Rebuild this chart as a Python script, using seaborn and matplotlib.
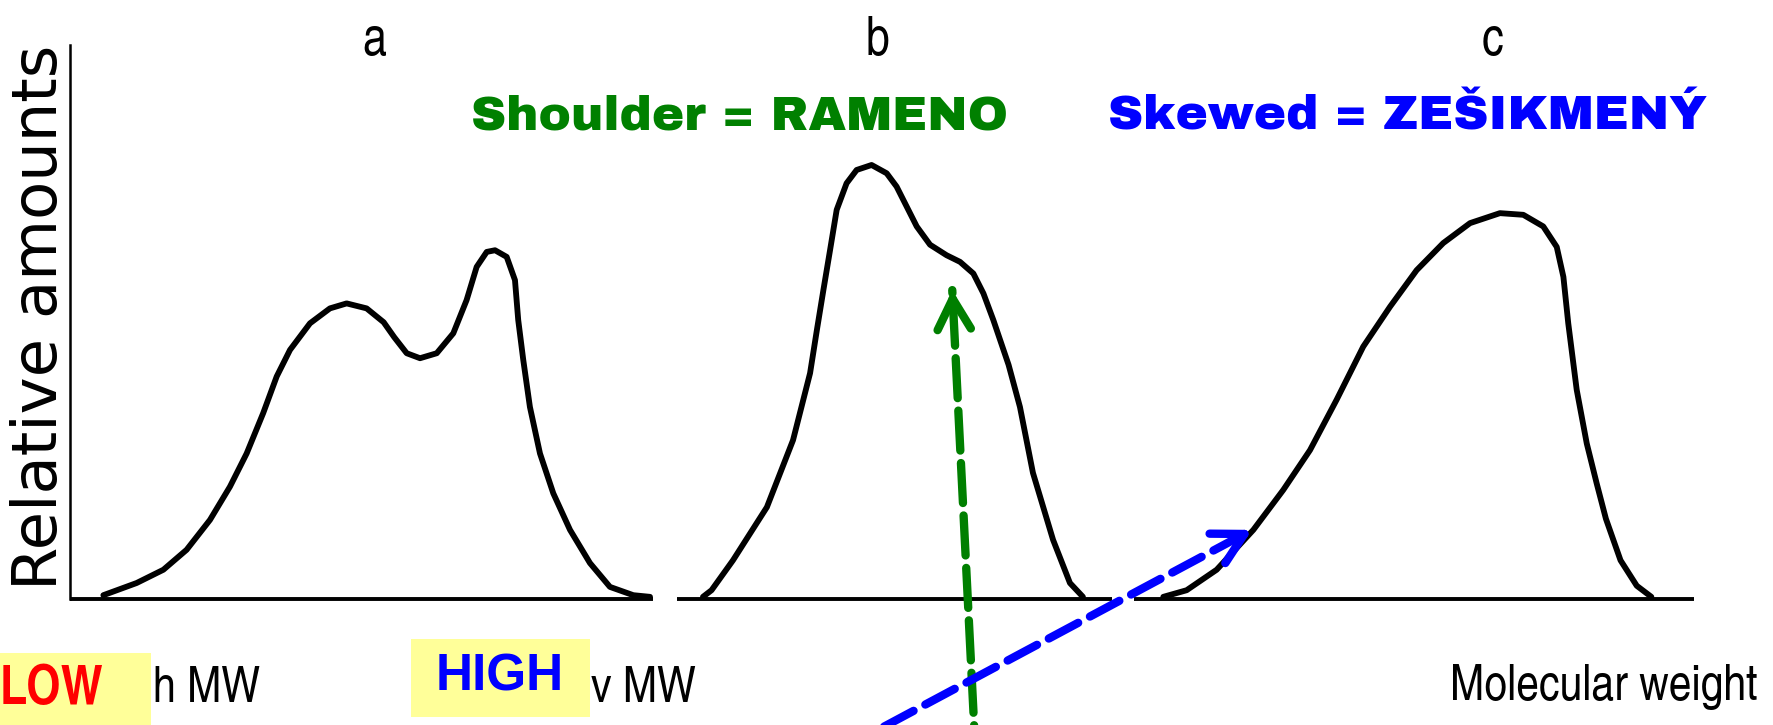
import pandas as pd
import matplotlib.pyplot as plt
import matplotlib.patches as patches
import seaborn as sns

# Curve outlines (x = molecular weight, y = relative amount, both 0-100)
a_x = [2.03, 4.08, 5.73, 7.16, 8.60, 9.83, 10.86, 11.88, 12.71, 13.53, 14.76, 15.99, 17.02,
       18.25, 19.3, 19.95, 20.72, 21.54, 22.57, 23.59, 24.41, 25.03, 25.65, 26.16, 26.88,
       27.39, 27.59, 27.90, 28.31, 28.93, 29.75, 30.78, 32.01, 33.24, 34.68, 35.71]
a_y = [0.7, 2.9, 5.3, 8.9, 14.3, 20.3, 26.3, 33.6, 40.2, 45.0, 49.8, 52.5, 53.4,
       52.5, 50.0, 47.3, 44.4, 43.5, 44.4, 48.0, 54.0, 60.0, 62.7, 63.0, 61.8,
       57.6, 50.4, 43.2, 34.7, 26.3, 19.1, 12.5, 6.5, 2.2, 0.7, 0.4]

b_x = [38.97, 39.5, 40.82, 42.91, 44.52, 45.57, 45.99, 46.39, 46.80, 47.21, 47.82, 48.44,
       49.36, 50.29, 50.90, 51.52, 52.14, 52.96, 53.98, 54.81, 55.63, 56.25, 56.86, 57.8,
       58.50, 59.30, 60.54, 61.58, 62.38]
b_y = [0.4, 1.6, 7.0, 16.6, 28.7, 40.8, 48.6, 55.8, 63.0, 70.3, 75.1, 77.5,
       78.4, 76.9, 74.5, 70.9, 67.3, 64.0, 62.1, 60.9, 58.8, 55.2, 50.4, 42.3,
       34.7, 22.8, 10.7, 2.9, 0.4]

c_x = [67.33, 68.77, 70.62, 72.88, 74.72, 76.37, 78.01, 79.65, 81.30, 82.94, 84.58, 86.23,
       88.07, 89.51, 90.74, 91.57, 91.98, 92.28, 92.80, 93.42, 94.03, 94.6, 95.5, 96.5, 97.4]
c_y = [0.4, 1.6, 5.3, 12.5, 19.7, 26.9, 36.0, 45.6, 52.8, 59.4, 64.3, 67.9,
       69.7, 69.4, 67.3, 63.6, 58.2, 49.8, 37.8, 28.1, 20.9, 14.5, 7.0, 2.4, 0.4]

panel_labels = ['a', 'b', 'c']

frames = []
for name, xs, ys in zip(panel_labels, [a_x, b_x, c_x], [a_y, b_y, c_y]):
    frames.append(pd.DataFrame({'mw': xs, 'amount': ys, 'panel': name}))
df = pd.concat(frames, ignore_index=True)

sns.set_theme(style='white')
plt.rcParams['font.family'] = ['DejaVu Sans']
plt.rcParams['text.color'] = 'black'
narrow = ['TeX Gyre Heros Cn', 'DejaVu Sans']

fig = plt.figure(figsize=(17.73, 7.25), dpi=100)
ax = fig.add_axes([0.0397, 0.1737, 0.9155, 0.7637])

sns.lineplot(data=df, x='mw', y='amount', units='panel', estimator=None,
             color='black', lw=4.2, ax=ax, legend=False,
             solid_joinstyle='round', solid_capstyle='round')

# baseline pieces (the scanned axis is broken between panels)
for x0, x1 in [(0, 35.9), (37.4, 64.2), (65.5, 100)]:
    ax.hlines(0, x0, x1, color='black', lw=2.8, clip_on=False)

ax.set_xlim(0, 100)
ax.set_ylim(0, 100)
ax.set_xticks([])
ax.set_yticks([])
ax.set_xlabel('')
ax.set_ylabel('')
for s in ['top', 'right', 'bottom']:
    ax.spines[s].set_visible(False)
ax.spines['left'].set_color('black')
ax.spines['left'].set_linewidth(1.8)

# panel letters
for lab, fx in zip(panel_labels, [0.2113, 0.4949, 0.8419]):
    fig.text(fx, 0.943, lab, ha='center', va='center', fontsize=38, family=narrow)

fig.text(0.0224, 0.562, 'Relative amounts', rotation=90, ha='center', va='center', fontsize=45)

bold_heavy = ['Archivo Black', 'DejaVu Sans']
fig.text(0.4174, 0.840, 'Shoulder = RAMENO', color='#008000', fontsize=35,
         family=bold_heavy, ha='center', va='center')
fig.text(0.7939, 0.840, 'Skewed = ZEŠIKMENÝ', color='#0000ff', fontsize=35,
         family=bold_heavy, ha='center', va='center')

# x axis label pieces and highlighted boxes
fig.text(0.0864, 0.050, 'h MW', fontsize=36, family=narrow, ha='left', va='center')
fig.text(0.3335, 0.050, 'v MW', fontsize=36, family=narrow, ha='left', va='center')
fig.text(0.991, 0.053, 'Molecular weight', fontsize=36, family=narrow, ha='right', va='center')

fig.patches.append(patches.Rectangle((0.0, 0.0), 0.0851, 0.100, transform=fig.transFigure,
                                     facecolor='#ffff99', edgecolor='none', zorder=3))
fig.patches.append(patches.Rectangle((0.2318, 0.011), 0.1011, 0.108, transform=fig.transFigure,
                                     facecolor='#ffff99', edgecolor='none', zorder=3))
fig.text(0.0, 0.048, 'LOW', color='#ff0000', fontsize=39, fontweight='bold',
         family=narrow, ha='left', va='center', zorder=4)
fig.text(0.2817, 0.066, 'HIGH', color='#0000ff', fontsize=37, fontweight='bold',
         family=['Liberation Sans', 'DejaVu Sans'], ha='center', va='center', zorder=4)

# dashed arrows: shaft dashed, head solid
def dashed_arrow(tip, start, color, lw, dash):
    ax.annotate('', xy=tip, xytext=start, annotation_clip=False,
                arrowprops=dict(arrowstyle='-', color=color, lw=lw,
                                linestyle=(0, dash), shrinkA=0, shrinkB=0))
    dx = tip[0] - start[0]
    dy = tip[1] - start[1]
    near = (tip[0] - dx * 0.03, tip[1] - dy * 0.03)
    ax.annotate('', xy=tip, xytext=near, annotation_clip=False,
                arrowprops=dict(arrowstyle='->,head_length=0.55,head_width=0.3', color=color,
                                lw=lw, shrinkA=0, shrinkB=0, mutation_scale=40,
                                joinstyle='round', capstyle='round'))

dashed_arrow((54.33, 55.8), (55.8, -30.0), '#007f00', 6.0, (4.8, 1.5))
dashed_arrow((72.8, 12.5), (47.6, -27.0), '#0000ff', 6.0, (4.0, 1.6))

fig.savefig('out.png', dpi=100)
